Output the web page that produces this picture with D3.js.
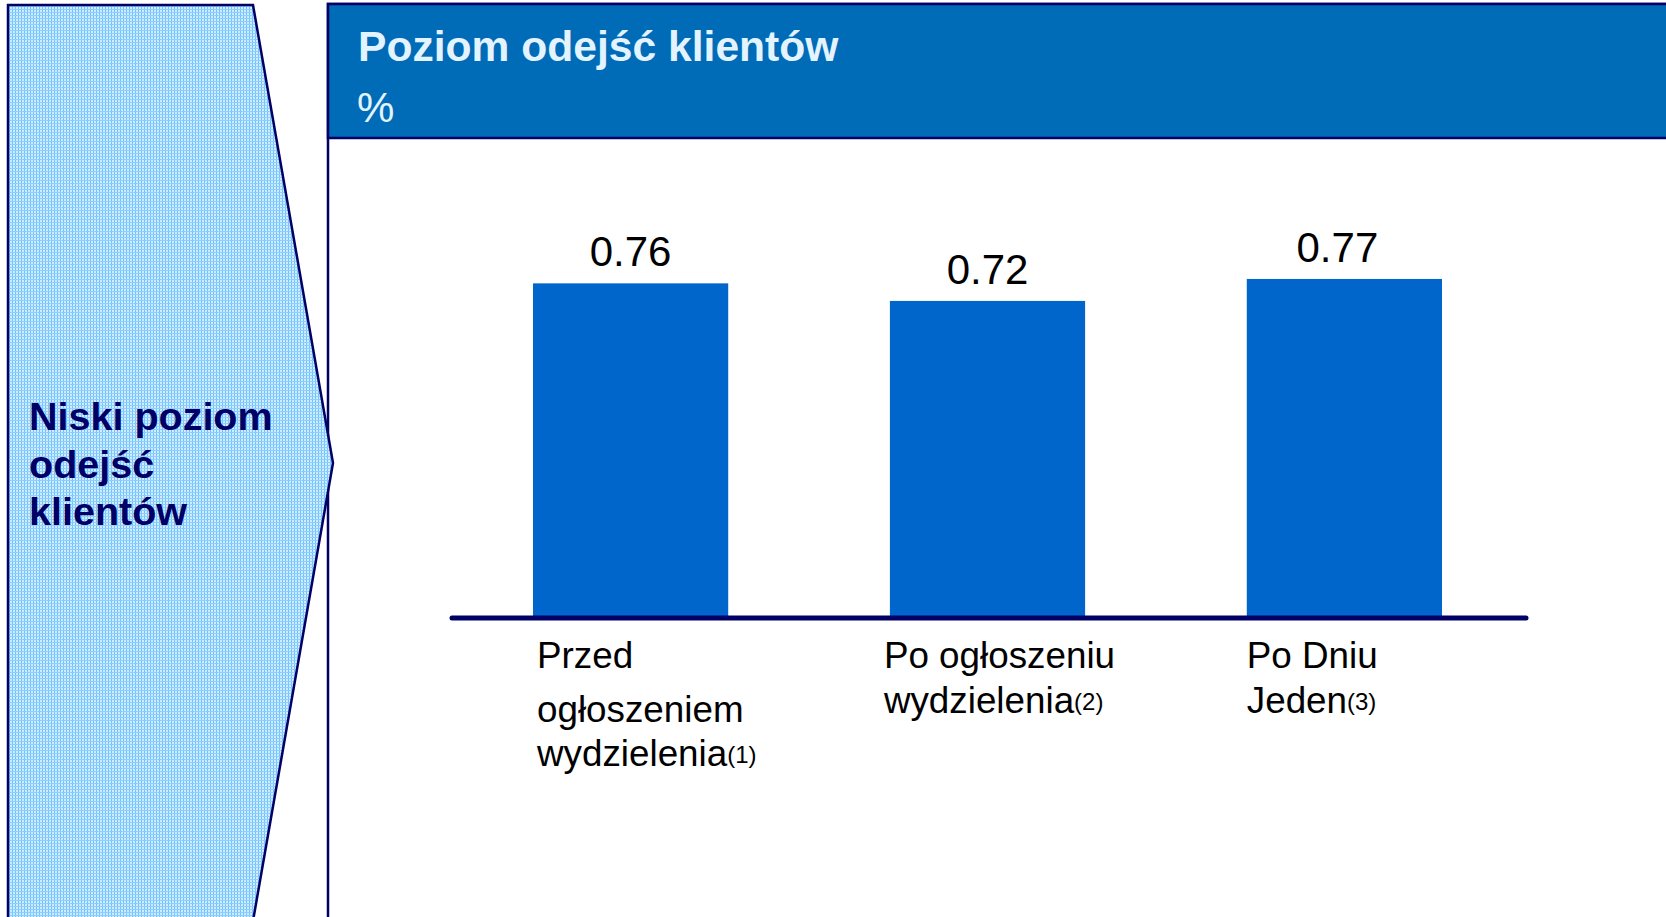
<!DOCTYPE html>
<html>
<head>
<meta charset="utf-8">
<script src="https://cdn.jsdelivr.net/npm/d3@7"></script>
<style>
  html, body { margin: 0; padding: 0; background: #fff; }
  svg { display: block; font-family: "Liberation Sans", Arial, sans-serif; }
</style>
</head>
<body>
<svg id="chart" width="1666" height="917"></svg>
<script>
// chart data
const categories = ["Przed ogłoszeniem wydzielenia", "Po ogłoszeniu wydzielenia", "Po Dniu Jeden"]
const values = [0.76, 0.72, 0.77]
const labelLines = [["Przed", "ogłoszeniem", "wydzielenia"], ["Po ogłoszeniu", "wydzielenia"], ["Po Dniu", "Jeden"]]
const footnotes = ["(1)", "(2)", "(3)"]
const title = "Poziom odejść klientów"
const unit = "%"
const sideText = ["Niski poziom", "odejść", "klientów"]

const W = 1666, H = 917
const navy = "#000066"
const barColor = "#0066cc"

const svg = d3.select("#chart")

// fine checked pattern for the side arrow
const defs = svg.append("defs")
const pat = defs.append("pattern")
    .attr("id", "grid")
    .attr("width", 3).attr("height", 3)
    .attr("patternUnits", "userSpaceOnUse")
pat.append("rect").attr("width", 3).attr("height", 3).attr("fill", "#d2ecff")
pat.append("rect").attr("width", 1).attr("height", 3).attr("fill", "#6fc2ff")
pat.append("rect").attr("width", 3).attr("height", 1).attr("fill", "#8dcfff")

// panel
const panelX = 328, panelTop = 4, headerBottom = 138
svg.append("rect")
    .attr("x", panelX).attr("y", panelTop)
    .attr("width", W - panelX + 10).attr("height", H)
    .attr("fill", "#fff")
    .attr("stroke", navy).attr("stroke-width", 2.5)
svg.append("rect")
    .attr("x", panelX).attr("y", panelTop)
    .attr("width", W - panelX + 10).attr("height", headerBottom - panelTop)
    .attr("fill", "#006bb6")
    .attr("stroke", navy).attr("stroke-width", 2.5)

// left arrow shape (drawn over the panel edge, its tip pokes past it)
const arrow = [[8, 5], [253, 5], [333, 463], [253, 921], [8, 921]]
svg.append("path")
    .attr("d", d3.line()(arrow) + "Z")
    .attr("fill", "url(#grid)")
    .attr("stroke", navy)
    .attr("stroke-width", 2.5)
    .attr("stroke-linejoin", "miter")

svg.append("text")
    .attr("x", 29)
    .attr("y", 430)
    .attr("fill", navy)
    .attr("font-weight", "bold")
    .attr("font-size", 39.5)
    .selectAll("tspan")
    .data(sideText)
    .join("tspan")
    .attr("x", 29)
    .attr("dy", (d, i) => i === 0 ? 0 : 47.5)
    .text(d => d)

svg.append("text")
    .attr("x", 358).attr("y", 61)
    .attr("fill", "#e3f3ff")
    .attr("font-weight", "bold")
    .attr("font-size", 42.6)
    .text(title)
svg.append("text")
    .attr("x", 357).attr("y", 122)
    .attr("fill", "#e3f3ff")
    .attr("font-size", 42)
    .text(unit)

// scales
const x = d3.scaleBand()
    .domain(categories)
    .range([533, 1442])
    .paddingInner(0.453)
    .paddingOuter(0)

const y = d3.scaleLinear()
    .domain([0, 1])
    .range([617, 178])

// bars
svg.append("g")
    .selectAll("rect")
    .data(values)
    .join("rect")
    .attr("x", (d, i) => x(categories[i]))
    .attr("y", d => y(d))
    .attr("width", x.bandwidth())
    .attr("height", d => y(0) - y(d))
    .attr("fill", barColor)

// value labels
const valueNudge = [0, 0, -7]
svg.append("g")
    .selectAll("text")
    .data(values)
    .join("text")
    .attr("x", (d, i) => x(categories[i]) + x.bandwidth() / 2 + valueNudge[i])
    .attr("y", d => y(d) - 17)
    .attr("text-anchor", "middle")
    .attr("font-size", 42)
    .attr("fill", "#000")
    .text(d => d.toFixed(2))

// baseline
const axisY = y(0) + 1
svg.append("line")
    .attr("x1", x.range()[0] - 81).attr("x2", x.range()[1] + 84)
    .attr("y1", axisY).attr("y2", axisY)
    .attr("stroke", navy)
    .attr("stroke-width", 5)
    .attr("stroke-linecap", "round")

// category labels
const labelShift = [4, -6, 0]
const lineSteps = [[0, 54, 44], [0, 45], [0, 45]]
labelLines.forEach((lines, i) => {
    const lx = x(categories[i]) + labelShift[i]
    const t = svg.append("text")
        .attr("x", lx)
        .attr("y", 668)
        .attr("font-size", 36.8)
        .attr("fill", "#000")
    lines.forEach((line, j) => {
        t.append("tspan")
            .attr("x", lx)
            .attr("dy", lineSteps[i][j])
            .text(line)
        if (j === lines.length - 1) {
            t.append("tspan")
                .attr("font-size", 24)
                .attr("dy", -3)
                .text(footnotes[i])
        }
    })
})
</script>
</body>
</html>
